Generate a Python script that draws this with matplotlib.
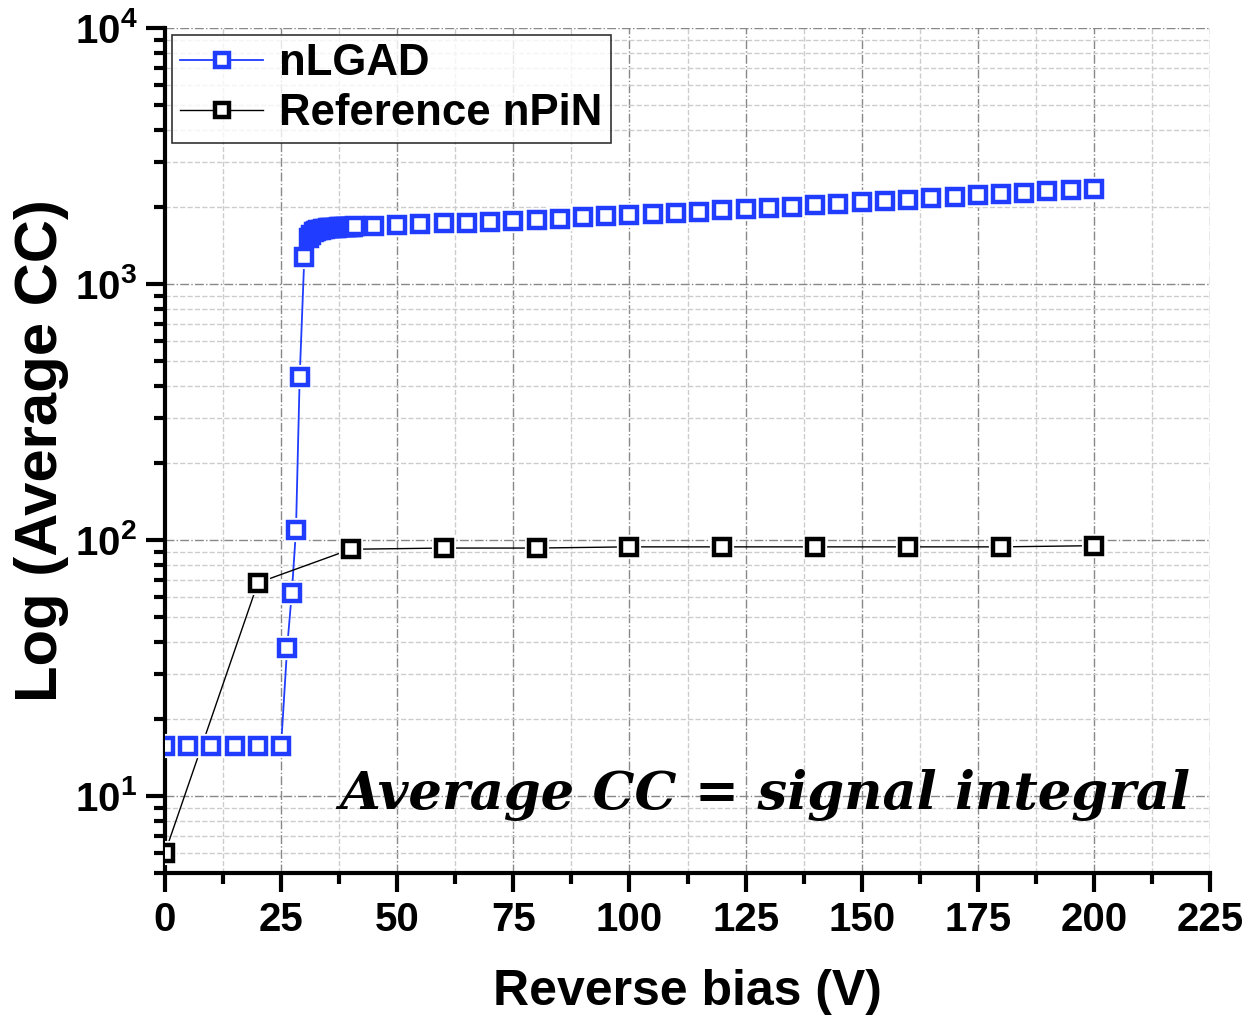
import numpy as np
import matplotlib
matplotlib.use("Agg")
import matplotlib.pyplot as plt
import matplotlib.ticker as mt

plt.rcParams['font.family'] = ['Liberation Sans', 'DejaVu Sans']
plt.rcParams['font.weight'] = 'bold'
plt.rcParams['mathtext.fontset'] = 'custom'
plt.rcParams['mathtext.rm'] = 'Liberation Sans:bold'
plt.rcParams['mathtext.bf'] = 'Liberation Sans:bold'
plt.rcParams['mathtext.it'] = 'Liberation Sans:bold'

# nLGAD data (bias in V, average CC)
lgad_v = [0, 5, 10, 15, 20, 25, 26.3, 27.3, 28.2, 29, 30,
          31, 31.5, 32, 32.5, 33, 33.5, 34, 34.5, 35, 35.5, 36,
          36.5, 37, 37.5, 38, 38.5, 39, 39.5, 40, 40.5, 41,
          45, 50, 55, 60, 65, 70, 75, 80, 85, 90, 95, 100,
          105, 110, 115, 120, 125, 130, 135, 140, 145, 150,
          155, 160, 165, 170, 175, 180, 185, 190, 195, 200]
lgad_cc = [15.7, 15.7, 15.7, 15.7, 15.7, 15.7, 38, 62, 109, 433, 1274,
           1512, 1560, 1590, 1608, 1620, 1630, 1638, 1644, 1649, 1653, 1656,
           1659, 1661, 1663, 1665, 1667, 1669, 1671, 1673, 1675, 1677,
           1690, 1700, 1712, 1724, 1738, 1752, 1768, 1785, 1802, 1820, 1838, 1856,
           1875, 1895, 1915, 1937, 1960, 1983, 2007, 2032, 2057, 2083,
           2108, 2135, 2162, 2190, 2218, 2247, 2275, 2300, 2325, 2350]

# reference nPiN data
pin_v = [0, 20, 40, 60, 80, 100, 120, 140, 160, 180, 200]
pin_cc = [6.0, 68, 92, 93, 93, 94, 94, 94, 94, 94, 95]

blue = '#1f3cff'

fig = plt.figure(figsize=(12.48, 10.21), dpi=100)
ax = fig.add_axes([0.1322, 0.1449, 0.8374, 0.8277])

def series(x, y, col, lw, label):
    ax.plot(x, y, '-', color=col, lw=lw, zorder=3)
    # white halo so lines stop short of the markers
    ax.plot(x, y, 's', ms=15, mfc='white', mec='white', mew=3, zorder=4)
    ax.plot(x, y, 's', ms=11, mfc='white', mec=col, mew=3.2, zorder=5)
    ax.plot([], [], '-s', color=col, lw=lw, ms=10, mfc='white', mec=col, mew=3.2, label=label)

series(lgad_v, lgad_cc, blue, 1.3, 'nLGAD')
series(pin_v, pin_cc, 'black', 1.0, 'Reference nPiN')

ax.set_yscale('log')
ax.set_xlim(0, 225)
ax.set_ylim(5, 1e4)
ax.set_xticks(np.arange(0, 226, 25))
ax.xaxis.set_minor_locator(mt.MultipleLocator(12.5))
ax.yaxis.set_major_locator(mt.FixedLocator([10, 100, 1000, 10000]))
ax.yaxis.set_major_formatter(mt.FixedFormatter([r'$10^{1}$', r'$10^{2}$', r'$10^{3}$', r'$10^{4}$']))
ax.yaxis.set_minor_locator(mt.LogLocator(base=10, subs=np.arange(2, 10)))
ax.yaxis.set_minor_formatter(mt.NullFormatter())

ax.grid(which='major', color='#888888', ls='-.', lw=1.0)
ax.grid(which='minor', color='#cccccc', ls='--', lw=1.0)
ax.set_axisbelow(True)

for s in ['top', 'right']:
    ax.spines[s].set_visible(False)
for s in ['left', 'bottom']:
    ax.spines[s].set_linewidth(3)
ax.tick_params(which='major', direction='out', length=14, width=3, labelsize=29, pad=6)
ax.tick_params(which='minor', direction='out', length=8, width=3)

ax.set_xlabel('Reverse bias (V)', fontsize=36, fontweight='bold', labelpad=22)
ax.set_ylabel('Log (Average CC)', fontsize=43, fontweight='bold', labelpad=4)

leg = ax.legend(loc='upper left', fontsize=31.5, frameon=True, fancybox=False,
                borderaxespad=0.15, handlelength=1.9, handletextpad=0.35,
                borderpad=0.2, labelspacing=0.2)
leg.get_frame().set_edgecolor('black')
leg.get_frame().set_linewidth(1.2)
for t in leg.get_texts():
    t.set_fontweight('bold')

ax.text(0.981, 0.092, 'Average CC = signal integral', transform=ax.transAxes,
        ha='right', va='center', fontsize=38, style='italic', fontweight='bold',
        family=['DejaVu Serif'], zorder=6)

fig.savefig('out.png', dpi=100)
